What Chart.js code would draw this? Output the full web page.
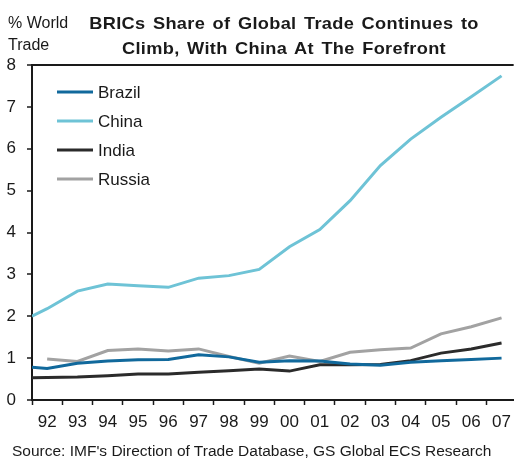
<!DOCTYPE html>
<html>
<head>
<meta charset="utf-8">
<script src="https://cdn.jsdelivr.net/npm/chart.js@4"></script>
<style>
  body { margin: 0; background: #fff; overflow: hidden; }
  #wrap { position: relative; width: 518px; height: 460px; font-family: "Liberation Sans", Arial, sans-serif; color: #1a1a1a; }
  #wrap canvas { position: absolute; left: 0; top: 0; }
  .ylab { position: absolute; left: 8px; top: 12px; font-size: 16px; line-height: 22px; }
  .title { position: absolute; left: 50px; width: 468px; top: 11px; text-align: center; font-weight: bold; font-size: 17px; line-height: 25px; letter-spacing: 0.3px; word-spacing: 2px; transform: scaleX(1.07); }
  .src { position: absolute; left: 12px; top: 442px; font-size: 15.5px; line-height: 18px; white-space: nowrap; }
</style>
</head>
<body>
<div id="wrap">
  <canvas id="chart" width="518" height="460"></canvas>
  <div class="ylab">% World<br>Trade</div>
  <div class="title">BRICs Share of Global Trade Continues to<br>Climb, With China At The Forefront</div>
  <div class="src">Source: IMF's Direction of Trade Database, GS Global ECS Research</div>
</div>
<script>
// x positions (first point sits on the left edge of the 92 slot)
const years = [1991.5, 1992, 1993, 1994, 1995, 1996, 1997, 1998, 1999,
  2000, 2001, 2002, 2003, 2004, 2005, 2006, 2007];
const brazil = [0.78, 0.75, 0.88, 0.93, 0.96, 0.97, 1.08, 1.03, 0.9,
  0.94, 0.93, 0.86, 0.83, 0.9, 0.94, 0.97, 1.0];
const china = [2.0, 2.18, 2.6, 2.77, 2.73, 2.69, 2.91, 2.97, 3.12,
  3.66, 4.07, 4.76, 5.6, 6.23, 6.75, 7.24, 7.74];
const india = [0.53, 0.54, 0.55, 0.58, 0.62, 0.62, 0.66, 0.7, 0.74,
  0.69, 0.84, 0.84, 0.85, 0.94, 1.12, 1.22, 1.36];
const russia = [null, 0.98, 0.92, 1.18, 1.22, 1.17, 1.22, 1.04, 0.88,
  1.05, 0.92, 1.14, 1.2, 1.24, 1.58, 1.75, 1.96];

const tickYears = [1992, 1993, 1994, 1995, 1996, 1997, 1998, 1999,
  2000, 2001, 2002, 2003, 2004, 2005, 2006, 2007];
const tickLabels = ["92", "93", "94", "95", "96", "97", "98", "99",
  "00", "01", "02", "03", "04", "05", "06", "07"];

const toPoints = (vals) => years.map((x, i) => ({ x: x, y: vals[i] }));

const series = [
  { label: "Brazil", data: brazil, color: "#11699c" },
  { label: "China", data: china, color: "#6ec3d6" },
  { label: "India", data: india, color: "#2b2b2b" },
  { label: "Russia", data: russia, color: "#a2a2a2" },
];

// legend drawn inside the plot, top-left
const innerLegend = {
  id: "innerLegend",
  afterDatasetsDraw(chart) {
    const ctx = chart.ctx;
    ctx.save();
    ctx.font = '17px "Liberation Sans", Arial, sans-serif';
    ctx.textBaseline = "middle";
    chart.data.datasets.forEach((ds, i) => {
      const y = 92 + i * 29;
      ctx.strokeStyle = ds.borderColor;
      ctx.lineWidth = 3;
      ctx.beginPath();
      ctx.moveTo(57, y);
      ctx.lineTo(93, y);
      ctx.stroke();
      ctx.fillStyle = "#1a1a1a";
      ctx.fillText(ds.label, 98, y + 1);
    });
    ctx.restore();
  },
};

const ctx = document.getElementById("chart").getContext("2d");
new Chart(ctx, {
  type: "line",
  data: {
    datasets: series.map((s) => ({
      label: s.label,
      data: toPoints(s.data),
      borderColor: s.color,
      backgroundColor: s.color,
      borderWidth: 3,
      pointRadius: 0,
      tension: 0,
      spanGaps: false,
    })),
  },
  options: {
    responsive: false,
    animation: false,
    devicePixelRatio: 1,
    layout: { padding: { top: 65, bottom: 30, left: 0, right: 0 } },
    plugins: { legend: { display: false }, tooltip: { enabled: false } },
    scales: {
      x: {
        type: "linear",
        min: 1991.5,
        max: 2007.4,
        afterFit: (s) => { s.height = 30; },
        border: { display: true, color: "#1a1a1a", width: 2 },
        grid: {
          drawOnChartArea: false,
          tickLength: 5,
          tickWidth: 1.5,
          tickColor: (c) => (Math.abs((c.tick.value % 1) - 0.5) < 0.01 ? "#1a1a1a" : "rgba(0,0,0,0)"),
        },
        ticks: {
          stepSize: 0.5,
          includeBounds: false,
          autoSkip: false,
          maxRotation: 0,
          padding: 7,
          color: "#1a1a1a",
          font: { family: '"Liberation Sans", Arial, sans-serif', size: 17 },
          callback: (v) => {
            const i = tickYears.indexOf(v);
            return i >= 0 ? tickLabels[i] : "";
          },
        },
      },
      y: {
        min: 0,
        max: 8,
        afterFit: (s) => { s.width = 32; },
        border: { display: true, color: "#1a1a1a", width: 2 },
        grid: {
          color: (c) => (c.tick.value === 8 ? "#1a1a1a" : "rgba(0,0,0,0)"),
          lineWidth: 2,
          tickColor: "#1a1a1a",
          tickWidth: 1.5,
          tickLength: 5,
        },
        ticks: {
          stepSize: 1,
          padding: 11,
          color: "#1a1a1a",
          font: { family: '"Liberation Sans", Arial, sans-serif', size: 17 },
        },
      },
    },
  },
  plugins: [innerLegend],
});
</script>
</body>
</html>
